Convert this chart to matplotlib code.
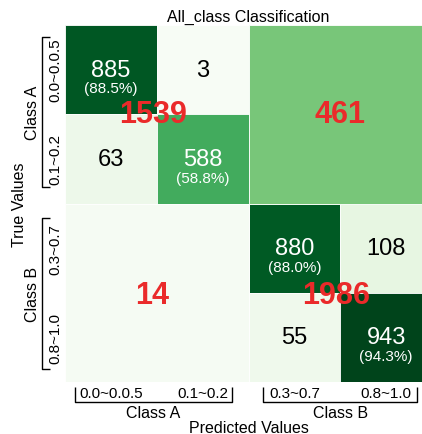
import numpy as np
import matplotlib
matplotlib.use("Agg")
import matplotlib.pyplot as plt
from matplotlib.patches import Rectangle
from matplotlib.colors import Normalize

plt.rcParams['font.family'] = ['Liberation Sans', 'DejaVu Sans']

# ---- data ----
class_names = ["Class A", "Class B"]
bin_labels_a = ["0.0~0.0.5", "0.1~0.2"]
bin_labels_b = ["0.3~0.7", "0.8~1.0"]
class_a_block = [[885, 3], [63, 588]]      # true A bins vs predicted A bins
class_b_block = [[880, 108], [55, 943]]    # true B bins vs predicted B bins
a_predicted_as_b = 461
b_predicted_as_a = 14
samples_per_bin = 1000

cmap = plt.get_cmap("Greens")
all_vals = np.concatenate([np.ravel(class_a_block), np.ravel(class_b_block),
                           [a_predicted_as_b, b_predicted_as_a]])
norm = Normalize(vmin=0, vmax=all_vals.max())

fig = plt.figure(figsize=(4.22, 4.35), dpi=100)
ax = fig.add_axes([65 / 422, 1 - 383 / 435, 367 / 422, 357 / 435])
ax.set_xlim(0, 4)
ax.set_ylim(4, 0)
ax.axis("off")

EDGE = dict(edgecolor="white", linewidth=0.6)


def draw_cell(x, y, w, h, v):
    ax.add_patch(Rectangle((x, y), w, h, facecolor=cmap(norm(v)), **EDGE))


def annotate_cell(cx, cy, v, diag):
    color = "white" if norm(v) > 0.5 else "black"
    ax.text(cx, cy, f"{v}", ha="center", va="center", fontsize=17, color=color)
    if diag:
        ax.text(cx, cy + 0.21, f"({v / samples_per_bin * 100:.1f}%)",
                ha="center", va="center", fontsize=11, color=color)


# diagonal quadrants, cell by cell
for offset, block in ((0, class_a_block), (2, class_b_block)):
    for i in range(2):
        for j in range(2):
            v = block[i][j]
            draw_cell(offset + j, offset + i, 1, 1, v)
            annotate_cell(offset + j + 0.5, offset + i + 0.5, v, i == j)

# off-diagonal quadrants as single blocks
draw_cell(2, 0, 2, 2, a_predicted_as_b)
draw_cell(0, 2, 2, 2, b_predicted_as_a)

# class-level totals
red = "#ea2a2a"
totals = [(0.955, 1, int(np.sum(class_a_block))), (3, 1, a_predicted_as_b),
          (0.955, 3.03, b_predicted_as_a), (2.955, 3.03, int(np.sum(class_b_block)))]
for cx, cy, v in totals:
    ax.text(cx, cy, f"{v}", ha="center", va="center", fontsize=22,
            fontweight="bold", color=red)

ax.set_title("All_class Classification", fontsize=11.5, pad=3)

# axis labelling: bin labels, brackets, class names
bins = bin_labels_a + bin_labels_b
for k, lab in enumerate(bins):
    ax.text(k + 0.5, 4.125, lab, ha="center", va="center", fontsize=11, clip_on=False)
    ax.text(-0.1, k + 0.5, lab, ha="center", va="center", fontsize=11,
            rotation=90, clip_on=False)

line_kw = dict(color="black", lw=1.0, clip_on=False, solid_capstyle="butt")
for (x0, x1), name in zip(((0.11, 1.82), (2.16, 3.84)), class_names):
    ax.plot([x0, x0, x1, x1], [4.056, 4.22, 4.22, 4.056], **line_kw)
    ax.text((x0 + x1) / 2, 4.34, name, ha="center", va="center", fontsize=11.5,
            clip_on=False)
for (y0, y1), name in zip(((0.135, 1.815), (2.16, 3.855)), class_names):
    ax.plot([-0.16, -0.25, -0.25, -0.16], [y0, y0, y1, y1], **line_kw)
    ax.text(-0.35, (y0 + y1) / 2, name, ha="center", va="center", fontsize=11.5,
            rotation=90, clip_on=False)

ax.text(2, 4.515, "Predicted Values", ha="center", va="center", fontsize=11.5,
        clip_on=False)
ax.text(-0.5, 2, "True Values", ha="center", va="center", fontsize=11.5,
        rotation=90, clip_on=False)

fig.savefig("out.png", dpi=100)
